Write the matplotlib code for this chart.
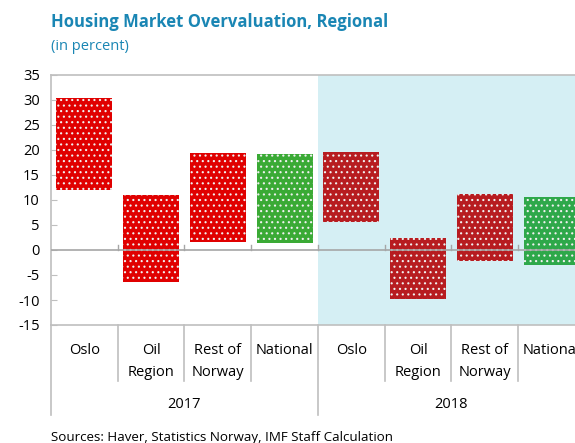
import numpy as np
import matplotlib
matplotlib.use("Agg")
import matplotlib.pyplot as plt
from matplotlib.transforms import blended_transform_factory

plt.rcParams['font.family'] = ['Open Sans', 'DejaVu Sans']
plt.rcParams['hatch.linewidth'] = 0.8

# data (percent)
regions = ["Oslo", "Oil\nRegion", "Rest of\nNorway", "National"]
years = ["2017", "2018"]
low_2017 = [12.0, -6.3, 1.5, 1.3]
high_2017 = [30.3, 11.0, 19.3, 19.2]
low_2018 = [5.6, -9.7, -2.1, -2.9]
high_2018 = [19.6, 2.4, 11.2, 10.6]

colors_2017 = ["#e00000", "#e00000", "#e00000", "#3aaa35"]
colors_2018 = ["#b71c20", "#b71c20", "#b71c20", "#2ea84a"]

blue = "#1a86b4"
grey = "#bfbfbf"

fig = plt.figure(figsize=(5.75, 4.43), dpi=100)
ax = fig.add_axes([51 / 575, 1 - 325 / 443, 534 / 575, 250 / 443])

lows = low_2017 + low_2018
highs = high_2017 + high_2018
cols = colors_2017 + colors_2018
x = np.arange(len(lows))

# shaded 2018 block
ax.axvspan(3.5, 7.5, color="#d5eff4", zorder=0, lw=0)

heights = np.array(highs) - np.array(lows)
ax.bar(x, heights, bottom=lows, width=0.84, color=cols, edgecolor="#f0f0f0",
       linewidth=0, hatch="...", zorder=2)

ax.axhline(0, color="#a6a6a6", lw=1.2, zorder=3)

ax.set_xlim(-0.5, 7.5)
ax.set_ylim(-15, 35)
ax.set_yticks(np.arange(-15, 36, 5))
ax.set_yticklabels([str(v) for v in range(-15, 36, 5)], fontsize=10.5)
ax.tick_params(axis="y", direction="in", length=4, color=grey, pad=8)
ax.set_xticks([])

for s in ["left", "top", "bottom", "right"]:
    ax.spines[s].set_color(grey)
    ax.spines[s].set_linewidth(1.2)

# small ticks on the zero line at category boundaries
for b in np.arange(0.5, 7.5, 1.0):
    ax.plot([b, b], [0, 0.9], color="#a6a6a6", lw=1, zorder=3)

trans = blended_transform_factory(ax.transData, ax.transAxes)
# category labels
for i in x:
    ax.text(i, -0.072, regions[i % 4], transform=trans, ha="center", va="top",
            fontsize=10.5, linespacing=1.6)
# separators
for b in np.arange(-0.5, 8.0, 1.0):
    bottom = -0.36 if b in (-0.5, 3.5, 7.5) else -0.225
    ax.plot([b, b], [0, bottom], transform=trans, color=grey, lw=1.2,
            clip_on=False)
# year labels
for j, yr in enumerate(years):
    ax.text(1.5 + 4 * j, -0.32, yr, transform=trans, ha="center", va="center",
            fontsize=10.5)

fig.text(51 / 575, 1 - 22 / 443, "Housing Market Overvaluation, Regional",
         color=blue, fontsize=12, fontweight="bold", va="center", ha="left")
fig.text(51 / 575, 1 - 47 / 443, "(in percent)", color=blue, fontsize=10.5,
         va="center", ha="left")
fig.text(51 / 575, 1 - 437 / 443,
         "Sources: Haver, Statistics Norway, IMF Staff Calculation",
         fontsize=9.6, va="center", ha="left")

fig.savefig("out.png", dpi=100)
